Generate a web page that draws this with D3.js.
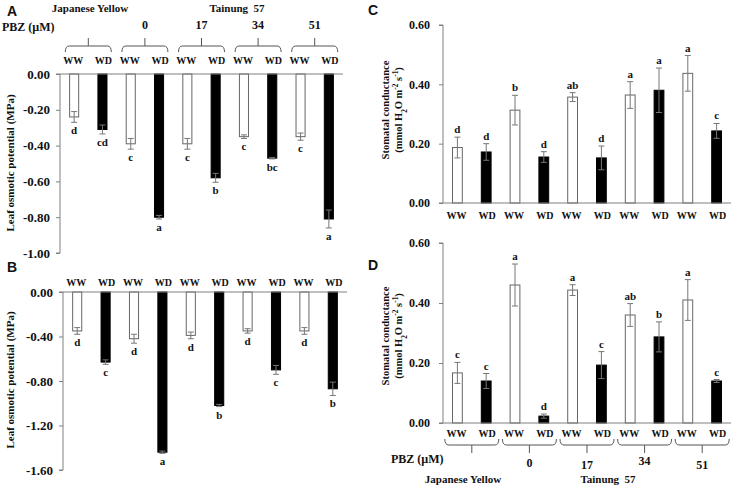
<!DOCTYPE html>
<html><head><meta charset="utf-8">
<script src="https://cdn.jsdelivr.net/npm/d3@7"></script>
<style>
body{margin:0;background:#fff;}
text{font-family:"Liberation Serif","Times New Roman",serif;font-weight:bold;fill:#111;}
.pl{font-family:"Liberation Sans",Arial,sans-serif;font-weight:bold;}
</style></head>
<body>
<script>
// ---------- DATA ----------
const treatments = ["WW","WD","WW","WD","WW","WD","WW","WD","WW","WD"];
const groups = ["Japanese Yellow","0","17","34","51"];
const pbzLabels = ["0","17","34","51"];
const cultivars = ["Japanese Yellow","Tainung  57"];

const osmA = [-0.24,-0.31,-0.39,-0.80,-0.39,-0.58,-0.35,-0.47,-0.35,-0.81];
const osmAErr = [0.03,0.025,0.03,0.01,0.03,0.025,0.01,0.004,0.02,0.05];
const osmALetters = ["d","cd","c","a","c","b","c","bc","c","a"];
const osmATicks = [0,-0.2,-0.4,-0.6,-0.8,-1.0];

const osmB = [-0.35,-0.63,-0.42,-1.44,-0.39,-1.02,-0.35,-0.70,-0.35,-0.87];
const osmBErr = [0.03,0.02,0.04,0.01,0.03,0.01,0.02,0.04,0.03,0.06];
const osmBLetters = ["d","c","d","a","d","b","d","c","d","b"];
const osmBTicks = [0,-0.4,-0.8,-1.2,-1.6];

const gsC = [0.187,0.172,0.313,0.155,0.357,0.152,0.364,0.380,0.437,0.243];
const gsCErr = [0.035,0.028,0.05,0.018,0.015,0.04,0.045,0.075,0.06,0.025];
const gsCLetters = ["d","d","b","d","ab","d","a","a","a","c"];

const gsD = [0.167,0.140,0.460,0.023,0.443,0.193,0.360,0.287,0.410,0.140];
const gsDErr = [0.035,0.025,0.07,0.007,0.018,0.045,0.038,0.05,0.068,0.005];
const gsDLetters = ["c","c","a","d","a","c","ab","b","a","c"];
const gsTicks = [0,0.2,0.4,0.6];

// ---------- DRAWING ----------
const W = 736, H = 489;
const svg = d3.select("body").append("svg").attr("width",W).attr("height",H);
const axisCol = "#808080";

function panel(o){
  const g = svg.append("g");
  const x = d3.scaleBand().domain(d3.range(treatments.length)).range(o.xr).padding(0);
  const y = d3.scaleLinear().domain(o.dom).range(o.yr);
  const bw = x.bandwidth()*o.bwf;
  const cx = i => x(i)+x.bandwidth()/2;

  const ya = g.append("g").attr("transform",`translate(${o.xr[0]},0)`)
    .call(d3.axisLeft(y).tickValues(o.ticks).tickSize(4).tickPadding(o.tpad).tickFormat(d=>d.toFixed(2)));
  ya.select(".domain").attr("stroke",axisCol).attr("d",`M-4,${y(o.dom[0])}H0V${y(o.dom[1])}H-4`);
  ya.selectAll(".tick line").attr("stroke",axisCol);
  ya.selectAll(".tick text").attr("font-family","Liberation Serif").attr("font-weight","bold")
    .attr("font-size",o.tfs).attr("fill","#111");

  g.selectAll("rect.bar").data(o.vals).join("rect")
    .attr("x",(d,i)=>cx(i)-bw/2).attr("width",bw)
    .attr("y",d=>Math.min(y(0),y(d))).attr("height",d=>Math.abs(y(d)-y(0)))
    .attr("fill",(d,i)=>i%2? "#000":"#fff")
    .attr("stroke",(d,i)=>i%2? "#000":"#666").attr("stroke-width",1);

  g.append("line").attr("x1",o.xr[0]).attr("x2",o.xr[1]).attr("y1",y(0)).attr("y2",y(0))
    .attr("stroke",axisCol).attr("stroke-width",1.2);

  o.vals.forEach((v,i)=>{
    const e=o.errs[i], c=cx(i);
    const eg=g.append("g").attr("stroke","#777").attr("stroke-width",1);
    eg.append("line").attr("x1",c).attr("x2",c).attr("y1",y(v-e)).attr("y2",y(v+e));
    eg.append("line").attr("x1",c-3).attr("x2",c+3).attr("y1",y(v-e)).attr("y2",y(v-e));
    eg.append("line").attr("x1",c-3).attr("x2",c+3).attr("y1",y(v+e)).attr("y2",y(v+e));
    const neg=v<0;
    const ly = neg? y(v-e)+12 : y(v+e)-4;
    g.append("text").attr("x",c).attr("y",ly).attr("text-anchor","middle")
      .attr("font-size",11).text(o.letters[i]);
  });

  treatments.forEach((t,i)=>{
    g.append("text").attr("x",cx(i)+(i%2?1:-1)).attr("y",o.tly).attr("text-anchor","middle")
      .attr("font-size",10).text(t);
  });

  o.title.forEach((ln,k)=>{
    const t=g.append("text").attr("transform",`translate(${o.titleX[k]},${o.titleY}) rotate(-90)`)
      .attr("text-anchor","middle").attr("font-size",o.titleFs);
    ln.forEach(part=>{
      const ts=t.append("tspan").text(part.t);
      if(part.sub) ts.attr("baseline-shift","sub").attr("font-size",o.titleFs*0.7);
      if(part.sup) ts.attr("baseline-shift","super").attr("font-size",o.titleFs*0.7);
    });
  });

  g.append("text").attr("class","pl").attr("x",o.plx).attr("y",o.ply).attr("font-size",14).text(o.pl);
  return {x,cx};
}

function braces(cx, yLine, dir, groupsN, hw){
  for(let gI=0; gI<groupsN; gI++){
    const m=(cx(2*gI)+cx(2*gI+1))/2, a=m-hw, b=m+hw;
    const e = -dir*6;
    const p = `M${a},${yLine+e} Q${a},${yLine} ${a+4},${yLine} H${m} V${yLine+dir*8} M${m},${yLine} H${b-4} Q${b},${yLine} ${b},${yLine+e}`;
    svg.append("path").attr("d",p).attr("fill","none").attr("stroke","#555").attr("stroke-width",1);
  }
}

const title1 = [[{t:"Leaf osmotic potential (MPa)"}]];
const title2 = [[{t:"Stomatal conductance"}],
  [{t:"(mmol H"},{t:"2",sub:1},{t:"O m"},{t:"-2",sup:1},{t:" s"},{t:"-1",sup:1},{t:")"}]];

const pA = panel({xr:[60,343],yr:[253,74],dom:[-1,0],ticks:osmATicks,vals:osmA,errs:osmAErr,letters:osmALetters,
  bwf:0.32,tpad:6,tfs:13,tly:64,title:title1,titleX:[14],titleY:163,titleFs:11,pl:"A",plx:7,ply:16});
const pB = panel({xr:[63,347],yr:[470,292],dom:[-1.6,0],ticks:osmBTicks,vals:osmB,errs:osmBErr,letters:osmBLetters,
  bwf:0.32,tpad:6,tfs:13,tly:286,title:title1,titleX:[14],titleY:380,titleFs:11,pl:"B",plx:7,ply:272});
const pC = panel({xr:[443,731],yr:[203,25],dom:[0,0.6],ticks:gsTicks,vals:gsC,errs:gsCErr,letters:gsCLetters,
  bwf:0.34,tpad:9,tfs:12,tly:219,title:title2,titleX:[389,402],titleY:110,titleFs:10.5,pl:"C",plx:368,ply:15});
const pD = panel({xr:[443,731],yr:[423,243],dom:[0,0.6],ticks:gsTicks,vals:gsD,errs:gsDErr,letters:gsDLetters,
  bwf:0.34,tpad:9,tfs:12,tly:437,title:title2,titleX:[389,402],titleY:336,titleFs:10.5,pl:"D",plx:368,ply:270});

braces(pA.cx, 46, -1, 5, 23);
svg.append("text").attr("x",90).attr("y",12).attr("text-anchor","middle").attr("font-size",11).text(cultivars[0]);
svg.append("text").attr("x",237).attr("y",12).attr("text-anchor","middle").attr("font-size",11).attr("xml:space","preserve").text(cultivars[1]);
svg.append("text").attr("x",2).attr("y",31).attr("font-size",12).text("PBZ (µM)");
pbzLabels.forEach((l,k)=>{
  svg.append("text").attr("x",(pA.cx(2*k+2)+pA.cx(2*k+3))/2).attr("y",29).attr("text-anchor","middle").attr("font-size",12).text(l);
});

braces(pD.cx, 445, 1, 5, 27);
svg.append("text").attr("x",391).attr("y",463).attr("font-size",12).text("PBZ (µM)");
const pbzY = [467,469,465,469];
pbzLabels.forEach((l,k)=>{
  svg.append("text").attr("x",(pD.cx(2*k+2)+pD.cx(2*k+3))/2).attr("y",pbzY[k]).attr("text-anchor","middle").attr("font-size",12).text(l);
});
svg.append("text").attr("x",463).attr("y",483).attr("text-anchor","middle").attr("font-size",11).text(cultivars[0]);
svg.append("text").attr("x",608).attr("y",483).attr("text-anchor","middle").attr("font-size",11).attr("xml:space","preserve").text(cultivars[1]);
</script>
</body></html>
